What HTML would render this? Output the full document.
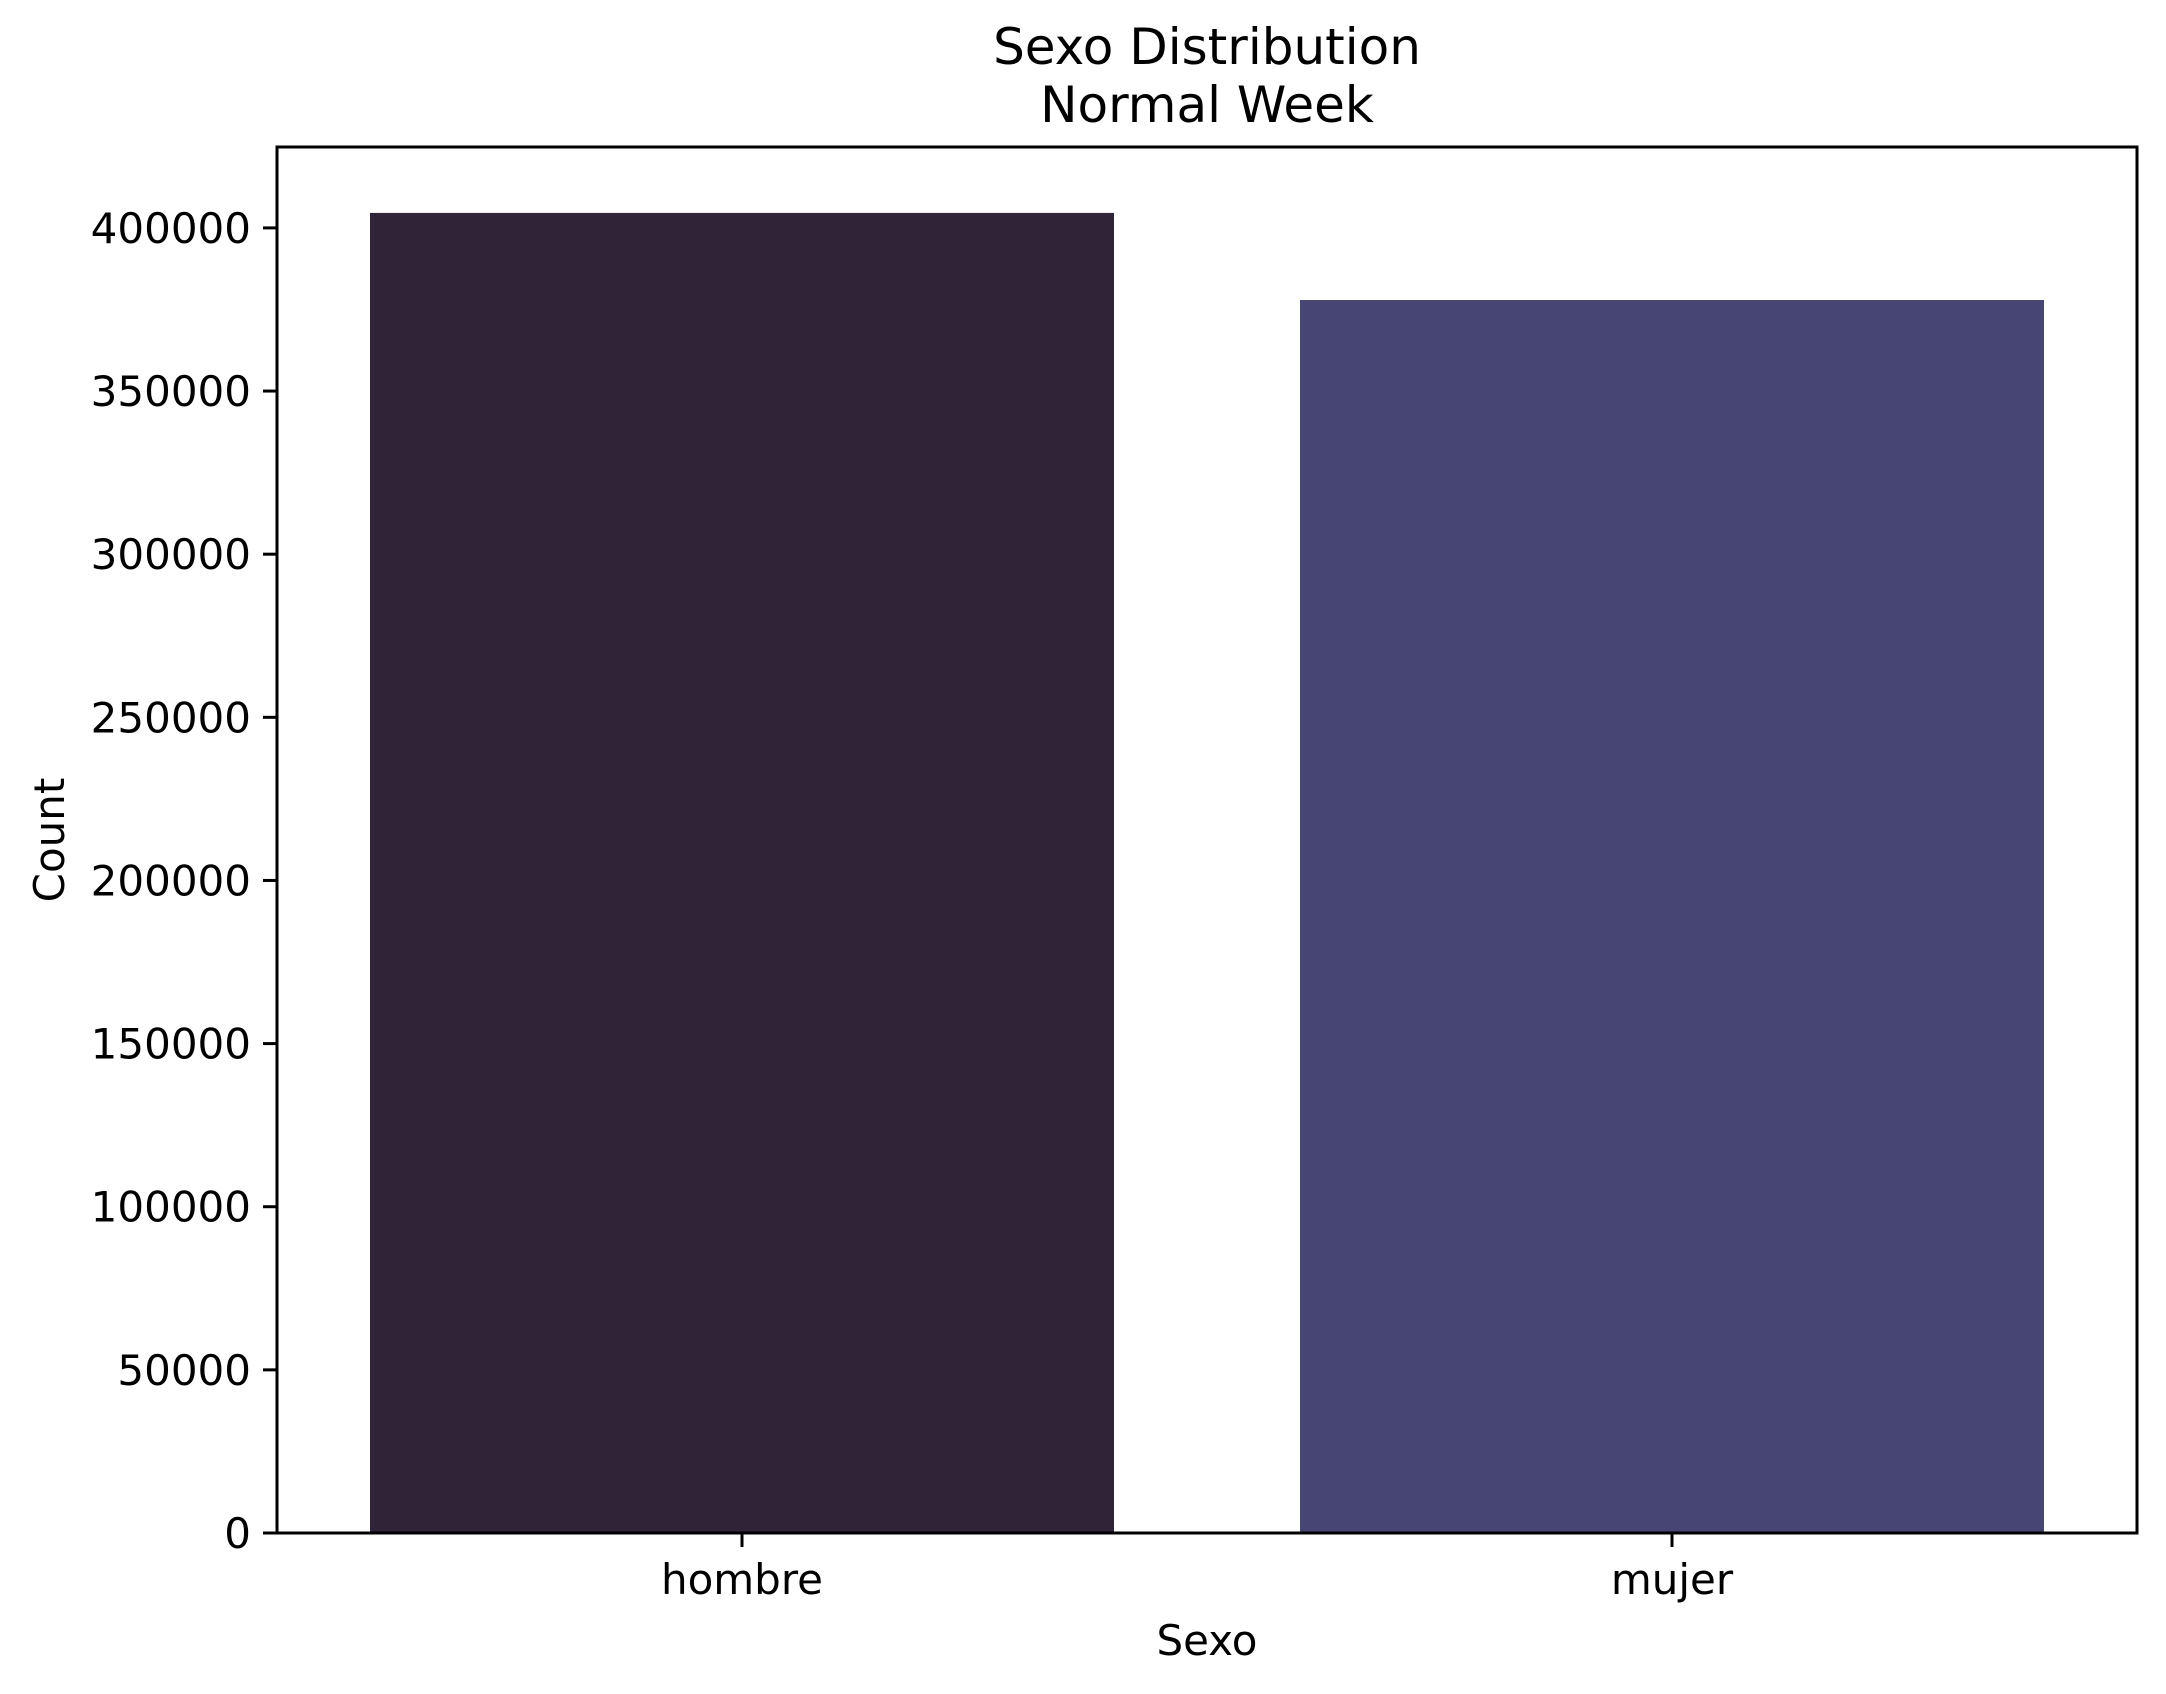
<!DOCTYPE html>
<html><head><meta charset="utf-8"><style>
html,body{margin:0;padding:0;background:#fff;}
svg{display:block;font-family:"DejaVu Sans","Liberation Sans",sans-serif;}
</style></head><body>
<svg id="chart" width="2166" height="1694" viewBox="0 0 2166 1694" xmlns="http://www.w3.org/2000/svg">
<rect width="2166" height="1694" fill="#fff"/>
<text x="1207" y="64" font-size="50" text-anchor="middle">Sexo Distribution</text>
<text x="1207" y="122" font-size="50" text-anchor="middle">Normal Week</text>
<g id="bars"></g>
<g id="yticks"></g>
<g id="xticks"></g>
<rect x="277" y="147" width="1860" height="1386" fill="none" stroke="#000" stroke-width="3"/>
<text transform="translate(64,840) rotate(-90)" font-size="42" text-anchor="middle">Count</text>
<text x="1207" y="1655" font-size="42" text-anchor="middle">Sexo</text>
</svg>
<script>
const categories = ["hombre", "mujer"];
const counts = [404600, 377900];
const colors = ["#2f2337", "#474572"];
const yTicks = [0, 50000, 100000, 150000, 200000, 250000, 300000, 350000, 400000];

const L = 277, R = 2137, T = 147, B = 1533;
const yMax = 424800;
const NS = "http://www.w3.org/2000/svg";
function y(v){ return B - (v / yMax) * (B - T); }
const slot = (R - L) / categories.length;
function xc(i){ return L + slot * (i + 0.5); }

const barsG = document.getElementById('bars');
categories.forEach((c, i) => {
  const r = document.createElementNS(NS, 'rect');
  const w = slot * 0.8;
  r.setAttribute('x', xc(i) - w / 2);
  r.setAttribute('y', y(counts[i]));
  r.setAttribute('width', w);
  r.setAttribute('height', B - y(counts[i]));
  r.setAttribute('fill', colors[i]);
  
  
  barsG.appendChild(r);

  const xg = document.getElementById('xticks');
  const tl = document.createElementNS(NS, 'line');
  tl.setAttribute('x1', xc(i)); tl.setAttribute('x2', xc(i));
  tl.setAttribute('y1', B); tl.setAttribute('y2', B + 14);
  tl.setAttribute('stroke', '#000'); tl.setAttribute('stroke-width', '3');
  
  
  xg.appendChild(tl);
  const tx = document.createElementNS(NS, 'text');
  tx.setAttribute('x', xc(i)); tx.setAttribute('y', B + 61);
  tx.setAttribute('font-size', '42'); tx.setAttribute('text-anchor', 'middle');
  tx.textContent = c;
  
  
  xg.appendChild(tx);
});

const yg = document.getElementById('yticks');
yTicks.forEach(v => {
  const l = document.createElementNS(NS, 'line');
  l.setAttribute('x1', L - 14); l.setAttribute('x2', L);
  l.setAttribute('y1', y(v)); l.setAttribute('y2', y(v));
  l.setAttribute('stroke', '#000'); l.setAttribute('stroke-width', '3');
  
  
  yg.appendChild(l);
  const t = document.createElementNS(NS, 'text');
  t.setAttribute('x', L - 26); t.setAttribute('y', y(v) + 15);
  t.setAttribute('font-size', '42'); t.setAttribute('text-anchor', 'end');
  t.textContent = String(v);
  
  
  yg.appendChild(t);
});
</script>
</body></html>
